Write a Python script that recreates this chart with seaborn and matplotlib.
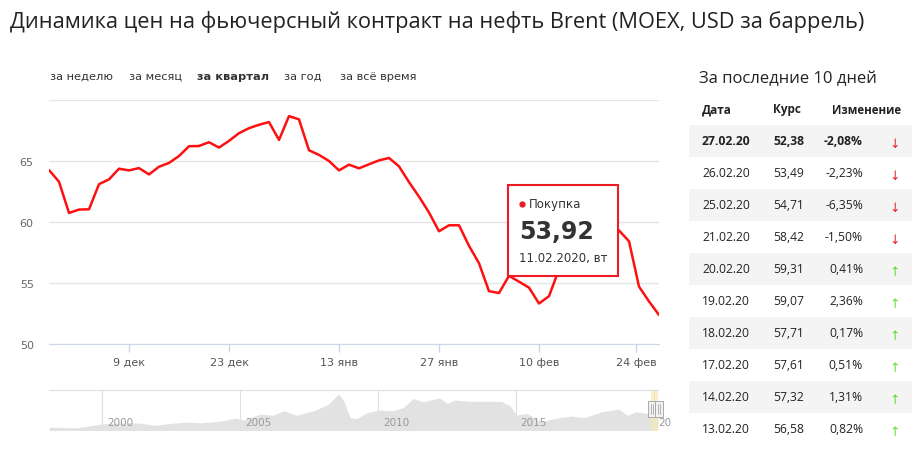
import numpy as np
import pandas as pd
import seaborn as sns
import matplotlib.pyplot as plt
from matplotlib.patches import Rectangle

sns.set_style("white")
plt.rcParams['font.family'] = ['DejaVu Sans']

# Brent, closing price per trading day (quarter view)
prices = [64.26, 63.30, 60.74, 61.02, 61.04, 63.10, 63.49, 64.37, 64.23, 64.42,
          63.90, 64.53, 64.84, 65.41, 66.21, 66.23, 66.54, 66.10, 66.65, 67.28,
          67.69, 67.97, 68.19, 66.73, 68.68, 68.41, 65.88, 65.50, 65.00, 64.23,
          64.70, 64.40, 64.73, 65.05, 65.25, 64.56, 63.27, 62.08, 60.78, 59.24,
          59.73, 59.73, 58.05, 56.62, 54.33, 54.18, 55.59, 55.11, 54.62, 53.32,
          53.92, 56.12, 56.58, 57.32, 57.61, 57.71, 59.07, 59.31, 58.42, 54.71,
          53.49, 52.38]
xtick_pos = [8, 18, 29, 39, 49, 58.7]
xtick_labels = ["9 дек", "23 дек", "13 янв", "27 янв", "10 фев", "24 фев"]
ytick_vals = [50, 55, 60, 65, 70]
ytick_labels = ["50", "55", "60", "65", ""]

# tooltip
tip_index = 50
tip_name = "Покупка"
tip_date = "11.02.2020, вт"

# navigator (whole history)
nav_years = [1998.07, 1999.07, 1999.61, 2000.0, 2000.93, 2001.39, 2001.86, 2002.48,
             2003.1, 2003.56, 2004.33, 2004.8, 2005.11, 2005.73, 2006.19, 2006.58,
             2007.04, 2007.74, 2008.2, 2008.56, 2008.75, 2008.98, 2009.21, 2009.6,
             2010.06, 2010.53, 2010.91, 2011.27, 2011.61, 2012.23, 2012.51, 2012.77,
             2013.31, 2013.78, 2014.47, 2014.78, 2015.02, 2015.4, 2015.79, 2016.02,
             2016.41, 2017.03, 2017.49, 2018.11, 2018.73, 2019.04, 2019.35, 2019.97,
             2020.15]
nav_prices = [12.6, 10, 19, 25.5, 29, 28, 20, 27, 32, 29, 36, 47, 40, 62, 58, 75,
              58, 78, 100, 139, 113, 49, 45, 68, 78, 75, 87, 122, 109, 124, 103, 116,
              111, 111, 111, 94, 59, 65, 40, 36, 46, 55, 49, 71, 81, 58, 71, 62, 52]
nav_ticks = [2000, 2005, 2010, 2015, 2020]
nav_labels = ["2000", "2005", "2010", "2015", "20"]

# table "last 10 days"
tbl_dates = ["27.02.20", "26.02.20", "25.02.20", "21.02.20", "20.02.20",
             "19.02.20", "18.02.20", "17.02.20", "14.02.20", "13.02.20"]
tbl_rates = ["52,38", "53,49", "54,71", "58,42", "59,31",
             "59,07", "57,71", "57,61", "57,32", "56,58"]
tbl_changes = [-2.08, -2.23, -6.35, -1.50, 0.41, 2.36, 0.17, 0.51, 1.31, 0.82]

tabs = ["за неделю", "за месяц", "за квартал", "за год", "за всё время"]
tab_x = [50, 129, 197, 284, 340]
active_tab = "за квартал"

W, H = 916, 452
fig = plt.figure(figsize=(W / 100, H / 100), dpi=100)

def frac(x0, y0, x1, y1):
    return [x0 / W, 1 - y1 / H, (x1 - x0) / W, (y1 - y0) / H]

# main chart
ax = fig.add_axes(frac(49, 101, 659, 345))
df = pd.DataFrame({"i": np.arange(len(prices)), "price": prices})
sns.lineplot(data=df, x="i", y="price", ax=ax, color="#ff1010", linewidth=1.8)
ax.set_xlim(0, len(prices) - 1)
ax.set_ylim(50, 70)
ax.set_yticks(ytick_vals)
ax.set_yticklabels(ytick_labels)
ax.set_xticks(xtick_pos)
ax.set_xticklabels(xtick_labels)
ax.set_xlabel("")
ax.set_ylabel("")
ax.grid(axis="y", color="#e6e6e6", linewidth=1)
ax.grid(axis="x", visible=False)
for s in ["top", "right", "left"]:
    ax.spines[s].set_visible(False)
ax.spines["bottom"].set_color("#ccd6eb")
ax.tick_params(axis="y", left=False, length=0, pad=11, labelsize=8, labelcolor="#666666")
ax.tick_params(axis="x", bottom=True, length=6, width=1, color="#ccd6eb", pad=3,
               labelsize=8, labelcolor="#555555", direction="out")

# navigator
nav = fig.add_axes(frac(49, 391, 658, 431.5))
nav.fill_between(nav_years, nav_prices, 0, color="#e2e2e2", linewidth=0)
nav.set_xlim(1998.06, 2020.15)
nav.set_ylim(0, 154)
nav.set_xticks([])
nav.set_yticks([])
for yr, lab in zip(nav_ticks, nav_labels):
    nav.axvline(yr, color="#e0e0e0", linewidth=0.8, zorder=0)
    nav.text(yr + 0.17, 0.21, lab, transform=nav.get_xaxis_transform(),
             fontsize=7.5, color="#999999", va="center", ha="left", clip_on=False)
nav.axvspan(2019.9, 2020.15, color="#f7e8b4", alpha=0.7, linewidth=0)
for s in ["bottom", "right", "left"]:
    nav.spines[s].set_visible(False)
nav.spines["top"].set_color("#dddddd")

# overlay for page text, tooltip and table (pixel coordinates)
ov = fig.add_axes([0, 0, 1, 1], zorder=5)
ov.set_xlim(0, W)
ov.set_ylim(H, 0)
ov.axis("off")
ov.patch.set_visible(False)

ov.text(10, 28, "Динамика цен на фьючерсный контракт на нефть Brent (MOEX, USD за баррель)",
        fontsize=15.7, color="#222222", family="Open Sans", va="baseline", ha="left")

for t, x in zip(tabs, tab_x):
    ov.text(x, 77, t, fontsize=8.2, color="#333333", va="center", ha="left",
            fontweight="bold" if t == active_tab else "normal")

# navigator handles
for hx in [648, 655]:
    ov.add_patch(Rectangle((hx, 402), 8, 16, facecolor="#f2f2f2", edgecolor="#aaaaaa",
                           linewidth=0.7))
    for lx in [hx + 3, hx + 5]:
        ov.plot([lx, lx], [405, 415], color="#aaaaaa", linewidth=0.6)

# tooltip
ov.add_patch(Rectangle((508, 186), 110, 91, facecolor="white", edgecolor="#ee1b24",
                       linewidth=1.5))
ov.plot([522], [205], marker="o", markersize=3.5, color="#ee1b24")
ov.text(529, 205, tip_name, fontsize=8.5, color="#333333", va="center", ha="left")
ov.text(519, 232, f"{prices[tip_index]:.2f}".replace(".", ","), fontsize=17,
        fontweight="bold", color="#333333", va="center", ha="left")
ov.text(519, 259, tip_date, fontsize=8.5, color="#333333", va="center", ha="left")

# table
ov.text(699, 83, "За последние 10 дней", fontsize=12, color="#222222",
        family="Open Sans", va="baseline", ha="left")
ov.text(702, 110, "Дата", fontsize=8.5, fontweight="bold", family="Open Sans",
        color="#222222", va="center")
ov.text(773, 110, "Курс", fontsize=8.5, fontweight="bold", family="Open Sans",
        color="#222222", va="center")
ov.text(832, 110, "Изменение", fontsize=8.3, fontweight="bold", family="Open Sans",
        color="#222222", va="center")
for i, (d, r, c) in enumerate(zip(tbl_dates, tbl_rates, tbl_changes)):
    yc = 142 + 32 * i
    if i % 2 == 0:
        ov.add_patch(Rectangle((689, yc - 16), 223, 32, facecolor="#f4f4f4",
                               linewidth=0, zorder=0))
    w = "bold" if i == 0 else "normal"
    ov.text(702, yc, d, fontsize=8.7, fontweight=w, family="Open Sans",
            color="#222222", va="center")
    ov.text(773, yc, r, fontsize=8.7, fontweight=w, family="Open Sans",
            color="#222222", va="center")
    ov.text(863, yc, f"{c:.2f}%".replace(".", ","), fontsize=8.7, fontweight=w,
            family="Open Sans", color="#222222", va="center", ha="right")
    ov.text(895, yc + 3, "↓" if c < 0 else "↑", fontsize=9,
            color="#e8262b" if c < 0 else "#66dd33", va="center", ha="center")

fig.savefig("out.png", dpi=100)
